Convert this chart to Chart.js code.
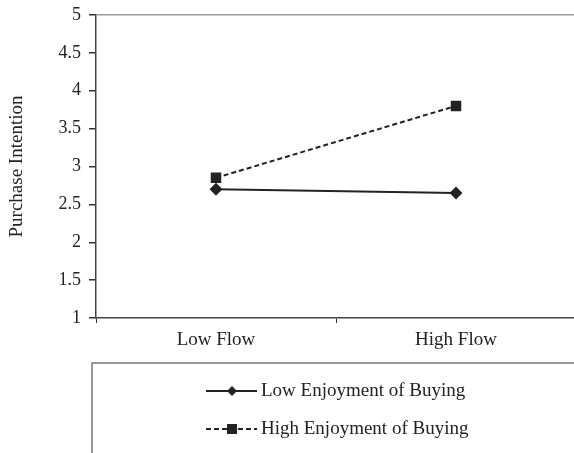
<!DOCTYPE html>
<html>
<head>
<meta charset="utf-8">
<script src="https://cdn.jsdelivr.net/npm/chart.js@4"></script>
<style>
  html, body { margin: 0; padding: 0; background: #fff; overflow: hidden; }
  #wrap { width: 584px; height: 453px; }
</style>
</head>
<body>
<div id="wrap"><canvas id="chart"></canvas></div>
<script>
const categories = ['Low Flow', 'High Flow'];
const seriesNames = ['Low Enjoyment of Buying', 'High Enjoyment of Buying'];
const lowEnjoyment = [2.70, 2.65];
const highEnjoyment = [2.85, 3.80];
const yTicks = [1, 1.5, 2, 2.5, 3, 3.5, 4, 4.5, 5];

const FONT = 'Liberation Serif';
const INK = '#222';

// legend box under the plot, drawn by hand like the original
const boxLegend = {
  id: 'boxLegend',
  afterDraw(chart) {
    const ctx = chart.ctx;
    ctx.save();
    ctx.strokeStyle = '#777';
    ctx.lineWidth = 1.5;
    ctx.strokeRect(92, 363, 520, 120);
    const rows = [391, 429];
    chart.data.datasets.forEach((ds, i) => {
      const y = rows[i];
      ctx.strokeStyle = INK;
      ctx.lineWidth = 2;
      ctx.setLineDash(ds.borderDash || []);
      ctx.beginPath();
      ctx.moveTo(206, y);
      ctx.lineTo(257, y);
      ctx.stroke();
      ctx.setLineDash([]);
      ctx.fillStyle = INK;
      if (ds.pointStyle === 'rectRot') {
        ctx.beginPath();
        ctx.moveTo(232, y - 5);
        ctx.lineTo(237, y);
        ctx.lineTo(232, y + 5);
        ctx.lineTo(227, y);
        ctx.closePath();
        ctx.fill();
      } else {
        ctx.fillRect(227, y - 5, 10, 10);
      }
      ctx.font = '19px "' + FONT + '"';
      ctx.textBaseline = 'middle';
      ctx.textAlign = 'left';
      ctx.fillText(ds.label, 261, y);
    });
    ctx.restore();
  }
};

new Chart(document.getElementById('chart'), {
  type: 'line',
  data: {
    labels: categories,
    datasets: [
      {
        label: seriesNames[0],
        data: lowEnjoyment,
        borderColor: INK,
        backgroundColor: INK,
        borderWidth: 2,
        pointStyle: 'rectRot',
        pointRadius: 5,
        tension: 0
      },
      {
        label: seriesNames[1],
        data: highEnjoyment,
        borderColor: INK,
        backgroundColor: INK,
        borderWidth: 2,
        borderDash: [5, 3],
        pointStyle: 'rect',
        pointRadius: 6,
        tension: 0
      }
    ]
  },
  options: {
    responsive: true,
    maintainAspectRatio: false,
    animation: false,
    layout: { padding: { top: 15, right: 1, bottom: 95, left: 0 } },
    plugins: {
      legend: { display: false },
      tooltip: { enabled: false }
    },
    scales: {
      x: {
        offset: true,
        grid: { offset: true, drawOnChartArea: false, tickLength: 5, tickColor: '#333' },
        border: { color: '#444', width: 1.5 },
        ticks: { color: INK, font: { family: FONT, size: 19 }, padding: 6 },
        afterFit: (scale) => { scale.height = 40; }
      },
      y: {
        min: 1,
        max: 5,
        afterBuildTicks: (scale) => { scale.ticks = yTicks.map(v => ({ value: v })); },
        grid: {
          color: (c) => c.tick && c.tick.value === 5 ? '#999' : 'rgba(0,0,0,0)',
          lineWidth: 1.5,
          tickLength: 7,
          tickColor: '#333',
          drawTicks: true
        },
        border: { color: '#444', width: 1.5 },
        ticks: {
          color: INK,
          font: { family: FONT, size: 18 },
          padding: 8,
          callback: (v) => String(v)
        },
        title: {
          display: true,
          text: 'Purchase Intention',
          color: INK,
          font: { family: FONT, size: 19 },
          padding: { top: 6, bottom: 10 }
        },
        afterFit: (scale) => {
          scale.width = 96;
          scale.paddingTop = 0;
          scale.paddingBottom = 0;
        }
      }
    }
  },
  plugins: [boxLegend]
});
</script>
</body>
</html>
